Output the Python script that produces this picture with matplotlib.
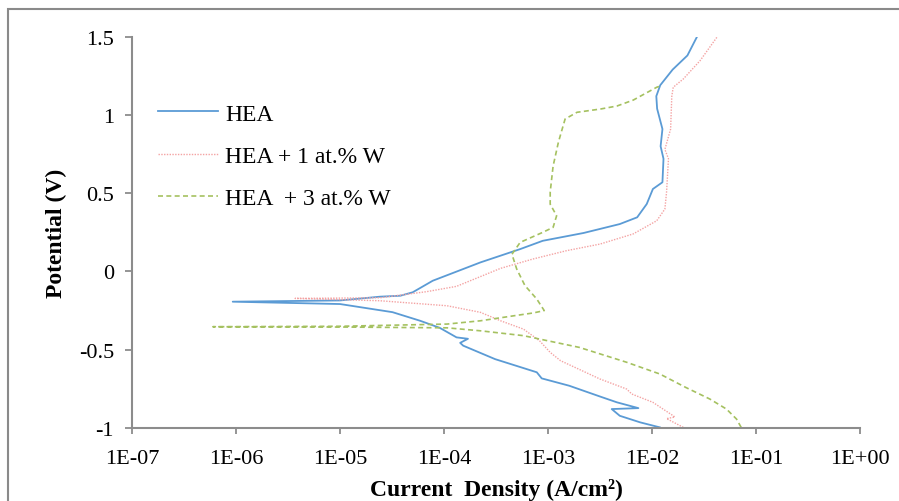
import numpy as np
import matplotlib
matplotlib.use('Agg')
import matplotlib.pyplot as plt
from matplotlib.patches import Rectangle

plt.rcParams['font.family'] = ['Liberation Serif', 'DejaVu Serif']

# polarisation curves, current density (A/cm2) and potential (V)
# each curve split at Ecorr: cathodic branch (going down) and anodic branch (going up)
hea_cat_i = [9.3e-7, 1.0e-5, 3.2e-5, 5.9e-5, 9.1e-5, 1.32e-4, 1.70e-4, 1.43e-4, 1.53e-4,
             3.1e-4, 7.8e-4, 8.7e-4, 1.6e-3, 3.2e-3, 4.6e-3, 7.4e-3, 4.1e-3, 4.9e-3,
             7.7e-3, 1.19e-2]
hea_cat_E = [-0.193, -0.208, -0.26, -0.315, -0.36, -0.421, -0.43, -0.456, -0.474,
             -0.56, -0.644, -0.683, -0.73, -0.80, -0.836, -0.873, -0.879, -0.922,
             -0.964, -0.996]
hea_an_i = [9.3e-7, 1.0e-5, 2.43e-5, 3.8e-5, 5.0e-5, 7.8e-5, 1.15e-4, 2.24e-4, 5.4e-4,
            8.9e-4, 2.2e-3, 4.9e-3, 7.2e-3, 8.9e-3, 1.02e-2, 1.26e-2, 1.29e-2, 1.21e-2,
            1.26e-2, 1.12e-2, 1.10e-2, 1.2e-2, 1.58e-2, 2.19e-2, 2.71e-2]
hea_an_E = [-0.193, -0.185, -0.161, -0.155, -0.133, -0.059, -0.016, 0.058, 0.143,
            0.196, 0.246, 0.303, 0.346, 0.431, 0.527, 0.57, 0.72, 0.80,
            0.91, 1.04, 1.12, 1.19, 1.29, 1.38, 1.50]

w1_cat_i = [3.7e-6, 2.43e-5, 1.07e-4, 2.24e-4, 3.5e-4, 5.8e-4, 8.3e-4, 1.05e-3, 1.32e-3,
            3.16e-3, 5.7e-3, 6.4e-3, 1.02e-2, 1.6e-2, 1.66e-2, 1.38e-2, 2.0e-2]
w1_cat_E = [-0.172, -0.187, -0.219, -0.261, -0.315, -0.368, -0.443, -0.517, -0.57,
            -0.687, -0.751, -0.783, -0.836, -0.922, -0.93, -0.94, -0.996]
w1_an_i = [3.7e-6, 2.43e-5, 6.8e-5, 1.32e-4, 3.5e-4, 7.2e-4, 1.51e-3, 3.16e-3, 6.6e-3,
           1.11e-2, 1.33e-2, 1.38e-2, 1.44e-2, 1.33e-2, 1.51e-2, 1.55e-2, 1.6e-2, 2.0e-2,
           2.9e-2, 4.2e-2]
w1_an_E = [-0.172, -0.168, -0.129, -0.095, 0.02, 0.08, 0.133, 0.175, 0.24,
           0.324, 0.399, 0.506, 0.72, 0.78, 0.91, 1.12, 1.177, 1.23,
           1.347, 1.496]

w3_cat_i = [6.0e-7, 1.0e-5, 1.07e-4, 2.24e-4, 5.8e-4, 2.0e-3, 5.7e-3, 1.19e-2, 2.1e-2,
            3.6e-2, 5.2e-2, 6.5e-2, 7.2e-2]
w3_cat_E = [-0.353, -0.355, -0.36, -0.379, -0.41, -0.485, -0.58, -0.655, -0.74,
            -0.815, -0.879, -0.943, -0.996]
w3_an_i = [6.0e-7, 1.0e-5, 1.07e-4, 2.24e-4, 4.7e-4, 7.2e-4, 9.2e-4, 7.8e-4, 6.0e-4,
           5.0e-4, 4.5e-4, 5.4e-4, 8.9e-4, 1.12e-3, 1.21e-3, 1.05e-3, 1.05e-3, 1.12e-3,
           1.26e-3, 1.46e-3, 1.9e-3, 3.2e-3, 4.6e-3, 6.6e-3, 1.11e-2, 1.23e-2]
w3_an_E = [-0.353, -0.35, -0.336, -0.315, -0.283, -0.265, -0.25, -0.176, -0.09,
           0.016, 0.11, 0.186, 0.25, 0.282, 0.356, 0.43, 0.508, 0.674,
           0.827, 0.974, 1.017, 1.038, 1.057, 1.095, 1.177, 1.187]

labels = ['HEA', 'HEA + 1 at.% W', 'HEA  + 3 at.% W']
xticks = [1e-7, 1e-6, 1e-5, 1e-4, 1e-3, 1e-2, 1e-1, 1e0]
xtick_labels = ['1E-07', '1E-06', '1E-05', '1E-04', '1E-03', '1E-02', '1E-01', '1E+00']
yticks = [-1, -0.5, 0, 0.5, 1, 1.5]
ytick_labels = ['-1', '-0.5', '0', '0.5', '1', '1.5']


def scan(cat_i, cat_E, an_i, an_E):
    i = np.concatenate([np.array(cat_i)[::-1], np.array(an_i)[1:]])
    E = np.concatenate([np.array(cat_E)[::-1], np.array(an_E)[1:]])
    return i, E


fig = plt.figure(figsize=(8.99, 5.02), dpi=100)
ax = fig.add_axes([132/899, 1-429/502, 728/899, 391.3/502])

i, E = scan(hea_cat_i, hea_cat_E, hea_an_i, hea_an_E)
ax.plot(i, E, color='#5b9bd5', lw=1.3, label=labels[0])
i, E = scan(w1_cat_i, w1_cat_E, w1_an_i, w1_an_E)
ax.plot(i, E, color='#f4a3a3', lw=1.0, ls=(0, (1, 1)), label=labels[1])
i, E = scan(w3_cat_i, w3_cat_E, w3_an_i, w3_an_E)
ax.plot(i, E, color='#a5c160', lw=1.2, ls=(0, (3, 2)), label=labels[2])

ax.set_xscale('log')
ax.set_xlim(1e-7, 1e0)
ax.set_ylim(-1, 1.5)
ax.set_xticks(xticks)
ax.set_xticklabels(xtick_labels)
ax.set_yticks(yticks)
ax.set_yticklabels(ytick_labels)
ax.minorticks_off()

for s in ['top', 'right']:
    ax.spines[s].set_visible(False)
for s in ['left', 'bottom']:
    ax.spines[s].set_color('#8c8c8c')
    ax.spines[s].set_linewidth(1.5)
ax.tick_params(axis='both', colors='#8c8c8c', labelcolor='black', labelsize=16, width=1.3)
ax.tick_params(axis='y', length=5, pad=8)
ax.tick_params(axis='x', length=4, pad=11)

ax.set_xlabel('Current  Density (A/cm²)', fontsize=17, fontweight='bold')
ax.set_ylabel('Potential (V)', fontsize=17, fontweight='bold')
ax.xaxis.set_label_coords(0.5, -0.128)
ax.yaxis.set_label_coords(-0.089, 0.5)

ax.legend(loc='upper left', bbox_to_anchor=((158-132)/728, (429-104)/391.3),
          frameon=False, fontsize=17, handlelength=2.55, handletextpad=0.3,
          labelspacing=0.88, borderpad=0, borderaxespad=0)

# grey frame round the picture
fig.patches.append(Rectangle((8/899, -0.1), 1.2, 0.1 + 1 - 10/502, transform=fig.transFigure,
                             fill=False, edgecolor='#8a8a8a', lw=1.5, clip_on=False))

fig.savefig('out.png', dpi=100)
